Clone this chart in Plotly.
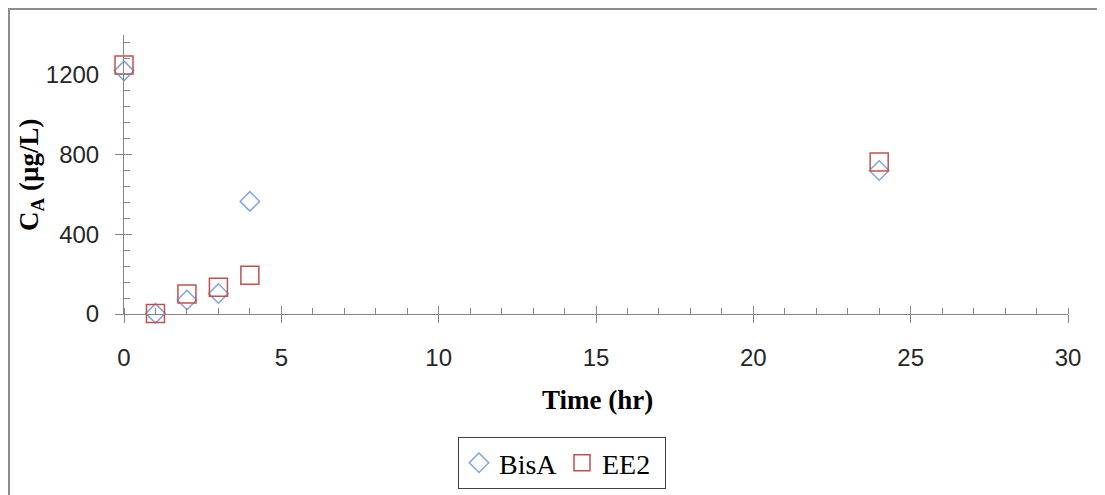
import plotly.graph_objects as go

time_hr = [0, 1, 2, 3, 4, 24]
bisa = [1220, 3, 70, 103, 565, 720]
ee2 = [1250, 3, 100, 134, 194, 763]

x_ticks = [0, 5, 10, 15, 20, 25, 30]
y_ticks = [0, 400, 800, 1200]

AXIS = "#868686"
BLUE = "#82A6DA"
RED = "#C4504E"
TICKFONT = dict(family="Liberation Sans", size=24, color="#262626")
SERIF = "Liberation Serif"

OFF = 8  # page offset of the figure (body margin)
W, H = 1105, 495
L, T = 124 - OFF, 35 - OFF
PW, PH = 944, 279
R = W - L - PW
B = H - T - PH


def px_x(p):
    return (p - OFF - L) / PW


def px_y(p):
    return (T + PH - (p - OFF)) / PH


fig = go.Figure()
fig.add_trace(go.Scatter(
    x=time_hr, y=bisa, mode="markers", name="BisA", cliponaxis=False,
    marker=dict(symbol="diamond-open", size=15, color=BLUE, line=dict(width=1.5, color=BLUE)),
))
fig.add_trace(go.Scatter(
    x=time_hr, y=ee2, mode="markers", name="EE2", cliponaxis=False,
    marker=dict(symbol="square-open", size=18, color=RED, line=dict(width=1.5, color=RED)),
))
# empty helper trace so the inner halves of the major ticks are drawn
fig.add_trace(go.Scatter(x=[], y=[], xaxis="x2", yaxis="y2", showlegend=False, hoverinfo="skip"))

fig.update_layout(
    width=W, height=H,
    margin=dict(l=L, r=R, t=T, b=B, autoexpand=False),
    paper_bgcolor="white", plot_bgcolor="white",
    showlegend=True,
    xaxis=dict(
        range=[0, 30], tickvals=x_ticks, ticktext=[str(v) for v in x_ticks],
        showgrid=False, zeroline=False, showline=True, linecolor=AXIS, linewidth=1,
        ticks="outside", ticklen=8, tickcolor=AXIS, tickwidth=1, automargin=False,
        tickfont=TICKFONT, ticklabelstandoff=14,
        minor=dict(ticks="inside", dtick=1, ticklen=6, tickcolor=AXIS, tickwidth=1, showgrid=False),
    ),
    yaxis=dict(
        range=[0, 1400], tickvals=y_ticks, ticktext=[str(v) for v in y_ticks],
        showgrid=False, zeroline=False, showline=True, linecolor=AXIS, linewidth=1,
        ticks="outside", ticklen=8, tickcolor=AXIS, tickwidth=1, automargin=False,
        tickfont=TICKFONT, ticklabelstandoff=11,
        minor=dict(ticks="inside", dtick=80, tick0=0, ticklen=6, tickcolor=AXIS, tickwidth=1, showgrid=False),
    ),
    xaxis2=dict(
        overlaying="x", anchor="y2", range=[0, 30], side="bottom", automargin=False,
        tickvals=x_ticks, showticklabels=False, ticks="inside", ticklen=8,
        tickcolor=AXIS, tickwidth=1, showgrid=False, zeroline=False, showline=False,
    ),
    yaxis2=dict(
        overlaying="y", anchor="x2", range=[0, 1400], side="left", automargin=False,
        tickvals=y_ticks, showticklabels=False, ticks="inside", ticklen=8,
        tickcolor=AXIS, tickwidth=1, showgrid=False, zeroline=False, showline=False,
    ),
    legend=dict(
        orientation="h", x=px_x(458), y=px_y(437), xanchor="left", yanchor="top",
        bordercolor="#404040", borderwidth=1, bgcolor="white",
        font=dict(family=SERIF, size=28, color="black"),
        tracegroupgap=0, itemwidth=30, entrywidth=58, entrywidthmode="pixels",
    ),
    annotations=[
        dict(text="<b>Time (hr)</b>", xref="paper", yref="paper", x=px_x(597), y=px_y(400),
             xanchor="center", yanchor="middle", showarrow=False,
             font=dict(family=SERIF, size=27, color="black")),
        dict(text="<b>C<sub>A</sub> (µg/L)</b>", xref="paper", x=px_x(31), xanchor="center",
             yref="paper", y=px_y(175), yanchor="middle", textangle=-90, showarrow=False,
             font=dict(family=SERIF, size=27, color="black")),
    ],
    shapes=[
        dict(type="line", xref="paper", yref="paper", x0=px_x(9), x1=px_x(9),
             y0=px_y(520), y1=px_y(8), line=dict(color="#8C8C8C", width=2)),
        dict(type="line", xref="paper", yref="paper", x0=px_x(8), x1=px_x(1130),
             y0=px_y(9), y1=px_y(9), line=dict(color="#8C8C8C", width=2)),
    ],
)

fig.write_html("out.html")
